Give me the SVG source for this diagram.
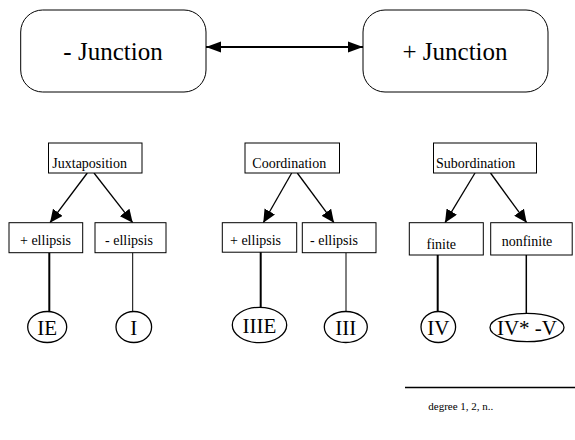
<svg xmlns="http://www.w3.org/2000/svg" width="575" height="440" viewBox="0 0 575 440" font-family="'Liberation Serif', 'DejaVu Serif', 'Times New Roman', serif">
<style>
text{font-family:"Liberation Serif","DejaVu Serif","Times New Roman",serif;fill:#000}
.big{font-size:25px;text-anchor:middle}
.lbl{font-size:14px}
.el{font-size:21px;text-anchor:middle}
.box{fill:#fff;stroke:#000;stroke-width:1}
.ell{fill:#fff;stroke:#000;stroke-width:1.3}
.arr{stroke:#000;stroke-width:1.3;fill:none}
.ln{stroke:#000;fill:none}
</style>
<defs>
<marker id="ah" markerUnits="userSpaceOnUse" markerWidth="14" markerHeight="12" refX="13" refY="6" orient="auto">
<path d="M0,0 L13,6 L0,12 Z" fill="#000"/>
</marker>
<marker id="ahs" markerUnits="userSpaceOnUse" markerWidth="16" markerHeight="12" refX="15" refY="6" orient="auto-start-reverse">
<path d="M0,0.5 L15,6 L0,11.5 Z" fill="#000"/>
</marker>
</defs>
<g id="connectors">
<line x1="206" y1="47" x2="363" y2="47" class="ln" stroke-width="2" marker-start="url(#ahs)" marker-end="url(#ahs)"/>
<line x1="87.3" y1="173" x2="50" y2="222.7" class="arr" marker-end="url(#ah)"/>
<line x1="94" y1="173" x2="132.7" y2="222.7" class="arr" marker-end="url(#ah)"/>
<line x1="291.7" y1="173" x2="263.3" y2="222.7" class="arr" marker-end="url(#ah)"/>
<line x1="297.3" y1="173" x2="334" y2="222.7" class="arr" marker-end="url(#ah)"/>
<line x1="475" y1="173" x2="445" y2="222.7" class="arr" marker-end="url(#ah)"/>
<line x1="490.5" y1="173" x2="526.7" y2="222.7" class="arr" marker-end="url(#ah)"/>
<line x1="49.3" y1="252.7" x2="49.3" y2="311.5" class="ln" stroke-width="2"/>
<line x1="132.7" y1="252.7" x2="132.7" y2="311.5" class="ln" stroke-width="1"/>
<line x1="260.7" y1="252" x2="260.7" y2="307.3" class="ln" stroke-width="2"/>
<line x1="346" y1="252.7" x2="346" y2="311.5" class="ln" stroke-width="1"/>
<line x1="437.7" y1="255" x2="437.7" y2="311.5" class="ln" stroke-width="2"/>
<line x1="526.3" y1="255" x2="526.3" y2="313.3" class="ln" stroke-width="1.5"/>
<line x1="405" y1="387.5" x2="575" y2="387.5" class="ln" stroke-width="1.5"/>
</g>
<g id="neg-junction"><rect x="20.7" y="10" width="185.3" height="82" rx="22" ry="22" class="box" stroke-width="1.2"/><text x="113" y="60" class="big">- Junction</text></g>
<g id="pos-junction"><rect x="363" y="10" width="185" height="82" rx="22" ry="22" class="box" stroke-width="1.2"/><text x="455" y="60" class="big">+ Junction</text></g>
<g id="juxtaposition"><rect x="48.5" y="143" width="93.5" height="30" class="box"/><text x="52.3" y="168" class="lbl">Juxtaposition</text></g>
<g id="coordination"><rect x="245" y="143" width="94.5" height="30" class="box"/><text x="252.3" y="168" class="lbl">Coordination</text></g>
<g id="subordination"><rect x="433.5" y="143" width="103" height="30" class="box"/><text x="436" y="168" class="lbl">Subordination</text></g>
<g id="jux-plus-ellipsis"><rect x="9" y="222.7" width="73.7" height="30" class="box"/><text x="20" y="244.5" class="lbl">+ ellipsis</text></g>
<g id="jux-minus-ellipsis"><rect x="95" y="222.7" width="71" height="30" class="box"/><text x="105" y="244.5" class="lbl">- ellipsis</text></g>
<g id="coord-plus-ellipsis"><rect x="222.3" y="222.7" width="74.4" height="29.5" class="box"/><text x="230" y="244.5" class="lbl">+ ellipsis</text></g>
<g id="coord-minus-ellipsis"><rect x="302.3" y="222.7" width="73.7" height="30" class="box"/><text x="310" y="244.5" class="lbl">- ellipsis</text></g>
<g id="finite"><rect x="409.3" y="222.7" width="74" height="32.3" class="box"/><text x="426.5" y="249" class="lbl">finite</text></g>
<g id="nonfinite"><rect x="490.7" y="222.7" width="81.5" height="32.3" class="box"/><text x="501.7" y="246" class="lbl">nonfinite</text></g>
<g id="IE"><ellipse cx="47.2" cy="327" rx="19.5" ry="15.5" class="ell"/><text x="47.2" y="334.5" class="el">IE</text></g>
<g id="I"><ellipse cx="133.8" cy="327" rx="17.8" ry="15.5" class="ell"/><text x="133.8" y="334.5" class="el">I</text></g>
<g id="IIIE"><ellipse cx="259.5" cy="325" rx="27.2" ry="17.7" class="ell"/><text x="259.5" y="333" class="el">IIIE</text></g>
<g id="III"><ellipse cx="345.8" cy="327" rx="21.5" ry="15.5" class="ell"/><text x="345.8" y="334.5" class="el">III</text></g>
<g id="IV"><ellipse cx="438.3" cy="327" rx="17.3" ry="15.5" class="ell"/><text x="438.3" y="334.5" class="el">IV</text></g>
<g id="IV-V"><ellipse cx="527" cy="327.5" rx="37" ry="14.2" class="ell"/><text x="527" y="335" class="el">IV* -V</text></g>
<g id="degree"><text x="428.3" y="410" style="font-size:11px">degree 1, 2, n..</text></g>
</svg>
